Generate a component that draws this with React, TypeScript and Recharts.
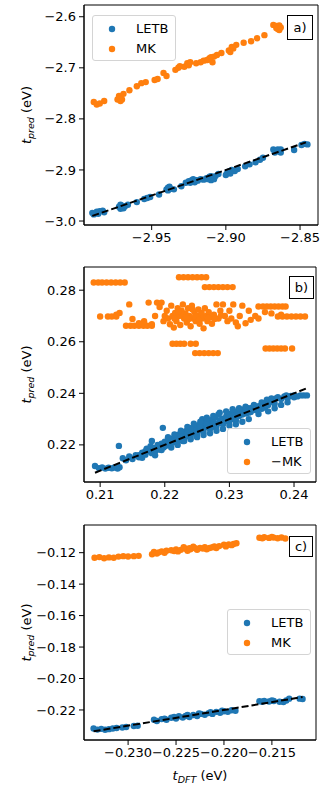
import React from 'react';
import { ScatterChart, Scatter, XAxis, YAxis, ReferenceArea } from 'recharts';

const BLUE = '#1f77b4';
const ORANGE = '#ff7f0e';
const FONT = "'DejaVu Sans', sans-serif";

// Panel a) data [t_DFT, t_pred]
const letbA: [number, number][] = [
  [-2.990, -2.984], [-2.989, -2.987], [-2.987, -2.982], [-2.986, -2.986], [-2.985, -2.981], [-2.983, -2.980], [-2.982, -2.983],
  [-2.972, -2.972], [-2.971, -2.976], [-2.970, -2.970], [-2.969, -2.975], [-2.968, -2.971], [-2.966, -2.968],
  [-2.971, -2.968], [-2.969, -2.972],
  [-2.960, -2.963], [-2.955, -2.957], [-2.953, -2.955], [-2.951, -2.953], [-2.945, -2.948],
  [-2.940, -2.938], [-2.939, -2.935], [-2.937, -2.937], [-2.935, -2.938], [-2.939, -2.940], [-2.938, -2.933],
  [-2.930, -2.932], [-2.927, -2.925], [-2.925, -2.922], [-2.923, -2.920], [-2.921, -2.924], [-2.919, -2.921], [-2.917, -2.918], [-2.915, -2.919],
  [-2.924, -2.925], [-2.922, -2.918], [-2.920, -2.920],
  [-2.913, -2.916], [-2.911, -2.913], [-2.910, -2.920], [-2.909, -2.915], [-2.907, -2.912], [-2.905, -2.908],
  [-2.912, -2.918], [-2.910, -2.912], [-2.908, -2.918],
  [-2.900, -2.910], [-2.898, -2.903], [-2.896, -2.900], [-2.894, -2.902], [-2.892, -2.898], [-2.899, -2.905], [-2.897, -2.907],
  [-2.887, -2.893], [-2.884, -2.889], [-2.880, -2.885], [-2.877, -2.880], [-2.875, -2.876],
  [-2.868, -2.860], [-2.866, -2.862], [-2.864, -2.864], [-2.863, -2.860], [-2.867, -2.866], [-2.865, -2.860], [-2.863, -2.866],
  [-2.854, -2.861], [-2.849, -2.851], [-2.847, -2.849], [-2.845, -2.850],
];
const mkA: [number, number][] = [
  [-2.989, -2.767], [-2.987, -2.772], [-2.985, -2.770], [-2.982, -2.765],
  [-2.973, -2.762], [-2.972, -2.755], [-2.971, -2.758], [-2.969, -2.751], [-2.970, -2.762], [-2.971, -2.765], [-2.972, -2.760],
  [-2.965, -2.744], [-2.960, -2.736], [-2.957, -2.730], [-2.954, -2.728], [-2.948, -2.724], [-2.946, -2.722],
  [-2.942, -2.710], [-2.940, -2.716], [-2.934, -2.704], [-2.932, -2.700], [-2.928, -2.698], [-2.926, -2.691],
  [-2.931, -2.697], [-2.925, -2.695],
  [-2.924, -2.689], [-2.920, -2.691], [-2.917, -2.689], [-2.913, -2.685], [-2.911, -2.681], [-2.909, -2.689],
  [-2.915, -2.686], [-2.912, -2.684], [-2.908, -2.678],
  [-2.910, -2.679], [-2.906, -2.675], [-2.903, -2.671], [-2.897, -2.669], [-2.896, -2.659], [-2.893, -2.655],
  [-2.898, -2.666], [-2.895, -2.662],
  [-2.888, -2.651], [-2.883, -2.648], [-2.879, -2.642], [-2.874, -2.636], [-2.868, -2.616], [-2.866, -2.622],
  [-2.864, -2.626], [-2.864, -2.617], [-2.866, -2.618], [-2.865, -2.624], [-2.863, -2.621],
];
const lineA: [number, number] = [-2.990, -2.846];

// Panel b) data
const letbB: [number, number][] = [
  [0.2092, 0.2118], [0.2098, 0.2110], [0.2103, 0.2112], [0.2108, 0.2108], [0.2113, 0.2111], [0.2118, 0.2109],
  [0.2122, 0.2112], [0.2127, 0.2108], [0.2130, 0.2113], [0.2129, 0.2196],
  [0.2135, 0.2148], [0.2140, 0.2140], [0.2145, 0.2155], [0.2150, 0.2145], [0.2155, 0.2160], [0.2160, 0.2152],
  [0.2165, 0.2170], [0.2170, 0.2162], [0.2172, 0.2185], [0.2175, 0.2175], [0.2178, 0.2195], [0.2180, 0.2168],
  [0.2183, 0.2188], [0.2186, 0.2178], [0.2189, 0.2200], [0.2192, 0.2182], [0.2195, 0.2205], [0.2197, 0.2266],
  [0.2198, 0.2190], [0.2200, 0.2212], [0.2203, 0.2198], [0.2206, 0.2220], [0.2209, 0.2205], [0.2212, 0.2225],
  [0.2215, 0.2210], [0.2218, 0.2232], [0.2220, 0.2215], [0.2222, 0.2240], [0.2224, 0.2222], [0.2226, 0.2245],
  [0.2228, 0.2228], [0.2230, 0.2250], [0.2232, 0.2232], [0.2234, 0.2255], [0.2236, 0.2238], [0.2238, 0.2262],
  [0.2240, 0.2242], [0.2242, 0.2258], [0.2244, 0.2245], [0.2246, 0.2268], [0.2248, 0.2250], [0.2250, 0.2272],
  [0.2252, 0.2255], [0.2254, 0.2278], [0.2256, 0.2260], [0.2258, 0.2300], [0.2260, 0.2265], [0.2262, 0.2285],
  [0.2264, 0.2268], [0.2266, 0.2290], [0.2268, 0.2272], [0.2270, 0.2295], [0.2272, 0.2275], [0.2274, 0.2298],
  [0.2276, 0.2270], [0.2278, 0.2305], [0.2280, 0.2280], [0.2283, 0.2318], [0.2286, 0.2285], [0.2289, 0.2302],
  [0.2292, 0.2290], [0.2295, 0.2310], [0.2298, 0.2295], [0.2300, 0.2320], [0.2303, 0.2300], [0.2306, 0.2325],
  [0.2309, 0.2305], [0.2312, 0.2330], [0.2315, 0.2312], [0.2318, 0.2335], [0.2320, 0.2318], [0.2323, 0.2338],
  [0.2326, 0.2322], [0.2330, 0.2342], [0.2333, 0.2328], [0.2336, 0.2345], [0.2340, 0.2335], [0.2345, 0.2350],
  [0.2350, 0.2340], [0.2355, 0.2358], [0.2358, 0.2375], [0.2362, 0.2365], [0.2366, 0.2372], [0.2370, 0.2360],
  [0.2375, 0.2385], [0.2380, 0.2378], [0.2385, 0.2388], [0.2390, 0.2380], [0.2395, 0.2390], [0.2400, 0.2392],
  [0.2405, 0.2388], [0.2410, 0.2392], [0.2415, 0.2392], [0.2420, 0.2392],
  [0.2205, 0.2200], [0.2215, 0.2225], [0.2225, 0.2232], [0.2235, 0.2245], [0.2245, 0.2255], [0.2255, 0.2268],
  [0.2265, 0.2278], [0.2275, 0.2285], [0.2285, 0.2295], [0.2295, 0.2300], [0.2305, 0.2312], [0.2315, 0.2322],
  [0.2325, 0.2330], [0.2335, 0.2338], [0.2345, 0.2342], [0.2360, 0.2355], [0.2372, 0.2380], [0.2388, 0.2392],
  [0.2400, 0.2385], [0.2240, 0.2232], [0.2250, 0.2240], [0.2260, 0.2250], [0.2270, 0.2262], [0.2280, 0.2270],
  [0.2290, 0.2280], [0.2300, 0.2290], [0.2310, 0.2295], [0.2218, 0.2220], [0.2228, 0.2215], [0.2200, 0.2195],
  [0.2190, 0.2192], [0.2160, 0.2160], [0.2165, 0.2150], [0.2170, 0.2175], [0.2240, 0.2265], [0.2300, 0.2305],
  [0.2330, 0.2325], [0.2355, 0.2345], [0.2365, 0.2380],
  [0.2180, 0.2215], [0.2185, 0.2160], [0.2195, 0.2180], [0.2205, 0.2230], [0.2210, 0.2190], [0.2215, 0.2240],
  [0.2220, 0.2200], [0.2225, 0.2255], [0.2230, 0.2215], [0.2235, 0.2270], [0.2240, 0.2222], [0.2245, 0.2282],
  [0.2250, 0.2230], [0.2255, 0.2290], [0.2260, 0.2238], [0.2265, 0.2305], [0.2270, 0.2245], [0.2275, 0.2312],
  [0.2280, 0.2255], [0.2285, 0.2325], [0.2290, 0.2262], [0.2295, 0.2330], [0.2300, 0.2275], [0.2305, 0.2338],
  [0.2310, 0.2280], [0.2315, 0.2342], [0.2320, 0.2290], [0.2325, 0.2348], [0.2330, 0.2300], [0.2338, 0.2355],
  [0.2345, 0.2320], [0.2350, 0.2365], [0.2360, 0.2330], [0.2370, 0.2342], [0.2380, 0.2355], [0.2390, 0.2365],
];
const mkB: [number, number][] = [
  [0.2090, 0.2830], [0.2097, 0.2830], [0.2103, 0.2830], [0.2110, 0.2830], [0.2117, 0.2830], [0.2124, 0.2830], [0.2131, 0.2830], [0.2138, 0.2830],
  [0.2100, 0.2698], [0.2112, 0.2698], [0.2118, 0.2698], [0.2125, 0.2698], [0.2130, 0.2712], [0.2125, 0.2705],
  [0.2140, 0.2662], [0.2147, 0.2662], [0.2153, 0.2662], [0.2160, 0.2662], [0.2167, 0.2662], [0.2173, 0.2662], [0.2180, 0.2662],
  [0.2145, 0.2745], [0.2150, 0.2688], [0.2160, 0.2672], [0.2168, 0.2680], [0.2175, 0.2752], [0.2180, 0.2668],
  [0.2185, 0.2700], [0.2188, 0.2752], [0.2192, 0.2735], [0.2195, 0.2752], [0.2198, 0.2680], [0.2200, 0.2700],
  [0.2203, 0.2720], [0.2205, 0.2690], [0.2208, 0.2668], [0.2210, 0.2740], [0.2212, 0.2700], [0.2214, 0.2655],
  [0.2216, 0.2712], [0.2218, 0.2680], [0.2220, 0.2730], [0.2222, 0.2700], [0.2224, 0.2665], [0.2226, 0.2720],
  [0.2228, 0.2745], [0.2230, 0.2690], [0.2232, 0.2710], [0.2234, 0.2675], [0.2236, 0.2730], [0.2238, 0.2700],
  [0.2240, 0.2660], [0.2242, 0.2740], [0.2244, 0.2690], [0.2246, 0.2715], [0.2248, 0.2680], [0.2250, 0.2700],
  [0.2252, 0.2725], [0.2254, 0.2670], [0.2256, 0.2705], [0.2258, 0.2690], [0.2260, 0.2652], [0.2262, 0.2730],
  [0.2264, 0.2700], [0.2266, 0.2680], [0.2268, 0.2715], [0.2270, 0.2695], [0.2273, 0.2670], [0.2276, 0.2705],
  [0.2280, 0.2745], [0.2283, 0.2690], [0.2286, 0.2720], [0.2290, 0.2745], [0.2293, 0.2700], [0.2297, 0.2680],
  [0.2300, 0.2720], [0.2303, 0.2690], [0.2306, 0.2745], [0.2310, 0.2675], [0.2313, 0.2660], [0.2316, 0.2700],
  [0.2320, 0.2740], [0.2325, 0.2672], [0.2330, 0.2720], [0.2333, 0.2685], [0.2340, 0.2700], [0.2345, 0.2690],
  [0.2215, 0.2690], [0.2227, 0.2705], [0.2237, 0.2688], [0.2247, 0.2698], [0.2257, 0.2712], [0.2267, 0.2692],
  [0.2277, 0.2688], [0.2287, 0.2702], [0.2221, 0.2718], [0.2233, 0.2695], [0.2243, 0.2725], [0.2253, 0.2685],
  [0.2345, 0.2737], [0.2352, 0.2737], [0.2358, 0.2737], [0.2364, 0.2737], [0.2370, 0.2737], [0.2376, 0.2737], [0.2382, 0.2737], [0.2387, 0.2737],
  [0.2355, 0.2715], [0.2365, 0.2710], [0.2380, 0.2705],
  [0.2375, 0.2698], [0.2382, 0.2698], [0.2389, 0.2698], [0.2396, 0.2698], [0.2403, 0.2698], [0.2410, 0.2698], [0.2417, 0.2698],
  [0.2222, 0.2850], [0.2229, 0.2850], [0.2236, 0.2850], [0.2243, 0.2850], [0.2250, 0.2850], [0.2257, 0.2850], [0.2264, 0.2850],
  [0.2262, 0.2812], [0.2269, 0.2812], [0.2276, 0.2812], [0.2283, 0.2812], [0.2290, 0.2812], [0.2297, 0.2812], [0.2305, 0.2812],
  [0.2212, 0.2592], [0.2218, 0.2592], [0.2224, 0.2592], [0.2230, 0.2592], [0.2240, 0.2592], [0.2248, 0.2592],
  [0.2247, 0.2556], [0.2254, 0.2556], [0.2261, 0.2556], [0.2268, 0.2556], [0.2275, 0.2556], [0.2282, 0.2556],
  [0.2356, 0.2574], [0.2362, 0.2574], [0.2368, 0.2574], [0.2374, 0.2574], [0.2380, 0.2574], [0.2386, 0.2574], [0.2397, 0.2574],
];
const lineB: [number, number] = [0.2092, 0.2420];

// Panel c) data
const letbC: [number, number][] = [
  [-0.2336, -0.2318], [-0.2332, -0.2325], [-0.2328, -0.2320], [-0.2324, -0.2326], [-0.2320, -0.2322], [-0.2316, -0.2318],
  [-0.2312, -0.2315], [-0.2306, -0.2312], [-0.2302, -0.2308], [-0.2294, -0.2302], [-0.2290, -0.2300],
  [-0.2273, -0.2262], [-0.2270, -0.2270], [-0.2265, -0.2258], [-0.2260, -0.2262], [-0.2255, -0.2250], [-0.2250, -0.2255],
  [-0.2247, -0.2240], [-0.2243, -0.2248], [-0.2240, -0.2238], [-0.2236, -0.2245], [-0.2232, -0.2232], [-0.2228, -0.2238],
  [-0.2224, -0.2225], [-0.2220, -0.2230], [-0.2216, -0.2220], [-0.2212, -0.2225], [-0.2208, -0.2212], [-0.2204, -0.2218],
  [-0.2200, -0.2208], [-0.2196, -0.2212], [-0.2192, -0.2202], [-0.2188, -0.2205],
  [-0.2262, -0.2255], [-0.2252, -0.2245], [-0.2238, -0.2232], [-0.2226, -0.2222], [-0.2214, -0.2215], [-0.2202, -0.2205],
  [-0.2163, -0.2145], [-0.2158, -0.2142], [-0.2153, -0.2146], [-0.2148, -0.2143], [-0.2142, -0.2148], [-0.2138, -0.2150],
  [-0.2160, -0.2148], [-0.2150, -0.2140],
  [-0.2135, -0.2140], [-0.2132, -0.2128], [-0.2121, -0.2128], [-0.2118, -0.2130],
];
const mkC: [number, number][] = [
  [-0.2335, -0.1232], [-0.2330, -0.1228], [-0.2325, -0.1235], [-0.2320, -0.1230], [-0.2315, -0.1232], [-0.2310, -0.1225],
  [-0.2305, -0.1222], [-0.2300, -0.1224], [-0.2294, -0.1222], [-0.2289, -0.1220],
  [-0.2275, -0.1210], [-0.2273, -0.1195], [-0.2270, -0.1205], [-0.2265, -0.1192], [-0.2260, -0.1188], [-0.2255, -0.1185],
  [-0.2250, -0.1180], [-0.2245, -0.1182], [-0.2240, -0.1175], [-0.2235, -0.1178], [-0.2230, -0.1172], [-0.2225, -0.1170],
  [-0.2220, -0.1165], [-0.2215, -0.1170], [-0.2210, -0.1160], [-0.2205, -0.1158], [-0.2200, -0.1150], [-0.2195, -0.1148],
  [-0.2190, -0.1145], [-0.2187, -0.1140], [-0.2262, -0.1200], [-0.2248, -0.1192], [-0.2238, -0.1188], [-0.2228, -0.1182],
  [-0.2218, -0.1178], [-0.2208, -0.1170], [-0.2198, -0.1160], [-0.2242, -0.1165], [-0.2232, -0.1162],
  [-0.2268, -0.1198], [-0.2252, -0.1190], [-0.2236, -0.1172], [-0.2222, -0.1174], [-0.2212, -0.1165], [-0.2192, -0.1152],
  [-0.2163, -0.1105], [-0.2158, -0.1102], [-0.2153, -0.1106], [-0.2148, -0.1104], [-0.2144, -0.1108], [-0.2140, -0.1103], [-0.2136, -0.1110],
  [-0.2160, -0.1108], [-0.2150, -0.1100],
];
const lineC: [number, number] = [-0.2336, -0.2118];

// Axes
const xTicksA = [-2.95, -2.9, -2.85];
const yTicksA = [-3.0, -2.9, -2.8, -2.7, -2.6];
const xTicksB = [0.21, 0.22, 0.23, 0.24];
const yTicksB = [0.22, 0.24, 0.26, 0.28];
const xTicksC = [-0.23, -0.225, -0.22, -0.215];
const yTicksC = [-0.22, -0.2, -0.18, -0.16, -0.14, -0.12];

const toPts = (arr: [number, number][]) => arr.map(([x, y]) => ({ x, y }));
const fmt = (d: number) => (v: number) => v.toFixed(d).replace('-', '\u2212');

const dot = (color: string) => (p: any) => <circle cx={p.cx} cy={p.cy} r={3.2} fill={color} />;
const noDot = () => <g />;

const YLabel = (props: any) => {
  const vb = props.viewBox || { x: 0, y: 0, width: 84, height: 200 };
  const cx = vb.x + 31;
  const cy = vb.y + vb.height / 2;
  return (
    <text transform={`translate(${cx},${cy}) rotate(-90)`} textAnchor="middle" fontFamily={FONT} fontSize={13} fill="#000">
      <tspan fontStyle="italic">t</tspan>
      <tspan fontStyle="italic" fontSize={9.5} dy={3}>pred</tspan>
      <tspan dy={-3}> (eV)</tspan>
    </text>
  );
};

const XLabel = (props: any) => {
  const vb = props.viewBox || { x: 84, y: 0, width: 232, height: 50 };
  const cx = vb.x + vb.width / 2;
  const cy = vb.y + 40;
  return (
    <text x={cx} y={cy} textAnchor="middle" fontFamily={FONT} fontSize={13} fill="#000">
      <tspan fontStyle="italic">t</tspan>
      <tspan fontStyle="italic" fontSize={9.5} dy={3}>DFT</tspan>
      <tspan dy={-3}> (eV)</tspan>
    </text>
  );
};

type PanelProps = {
  top: number;
  height: number;
  margin: { top: number; right: number; bottom: number; left: number };
  xAxisHeight: number;
  xDomain: [number, number];
  yDomain: [number, number];
  xTicks: number[];
  yTicks: number[];
  xDec: number;
  yDec: number;
  letb: [number, number][];
  mk: [number, number][];
  line: [number, number];
  mkName: string;
  legendPos: { left: number; top: number };
  tag: string;
  tagPos: { left: number; top: number; width: number; height: number };
  xLabel?: boolean;
};

const LegendBox = ({ mkName, pos }: { mkName: string; pos: { left: number; top: number } }) => (
  <div
    style={{
      position: 'absolute', left: pos.left, top: pos.top, width: 84, height: 46, boxSizing: 'border-box',
      border: '1px solid #d4d4d4', borderRadius: 3, background: 'rgba(255,255,255,0.85)',
      fontFamily: FONT, fontSize: 13, color: '#000',
    }}
  >
    {[{ n: 'LETB', c: BLUE }, { n: mkName, c: ORANGE }].map((it, i) => (
      <div key={it.n} style={{ position: 'absolute', left: 0, top: 4 + i * 20, height: 18, width: 84 }}>
        <svg width={24} height={18} style={{ position: 'absolute', left: 7, top: 0 }}>
          <circle cx={12} cy={9} r={3.2} fill={it.c} />
        </svg>
        <span style={{ position: 'absolute', left: 43, top: 1, lineHeight: '16px' }}>{it.n}</span>
      </div>
    ))}
  </div>
);

const Panel = (p: PanelProps) => {
  const diag = [{ x: p.line[0], y: p.line[0] }, { x: p.line[1], y: p.line[1] }];
  return (
    <div style={{ position: 'absolute', left: 0, top: p.top, width: 332, height: p.height }}>
      <ScatterChart width={332} height={p.height} margin={p.margin}>
        <XAxis
          type="number" dataKey="x" domain={p.xDomain} allowDataOverflow ticks={p.xTicks}
          tickFormatter={fmt(p.xDec)} height={p.xAxisHeight} tickSize={5} tickMargin={3}
          stroke="#000" tick={{ fill: '#000', fontSize: 13, fontFamily: FONT }} axisLine={{ stroke: '#000' }}
          tickLine={{ stroke: '#000' }} interval={0}
          label={p.xLabel ? <XLabel /> : undefined}
        />
        <YAxis
          type="number" dataKey="y" domain={p.yDomain} allowDataOverflow ticks={p.yTicks}
          tickFormatter={fmt(p.yDec)} width={84} tickSize={5} tickMargin={3}
          stroke="#000" tick={{ fill: '#000', fontSize: 13, fontFamily: FONT }} axisLine={{ stroke: '#000' }}
          tickLine={{ stroke: '#000' }} interval={0}
          label={<YLabel />}
        />
        <ReferenceArea x1={p.xDomain[0]} x2={p.xDomain[1]} y1={p.yDomain[0]} y2={p.yDomain[1]} fill="none" stroke="#000" strokeWidth={1} fillOpacity={0} />
        <Scatter name="LETB" data={toPts(p.letb)} fill={BLUE} shape={dot(BLUE)} isAnimationActive={false} />
        <Scatter name={p.mkName} data={toPts(p.mk)} fill={ORANGE} shape={dot(ORANGE)} isAnimationActive={false} />
        <Scatter
          name="y=x" data={diag} shape={noDot} legendType="none" isAnimationActive={false}
          line={{ stroke: '#000', strokeWidth: 2, strokeDasharray: '7 3' }}
        />
      </ScatterChart>
      <LegendBox mkName={p.mkName} pos={p.legendPos} />
      <div
        style={{
          position: 'absolute', left: p.tagPos.left, top: p.tagPos.top, width: p.tagPos.width, height: p.tagPos.height,
          boxSizing: 'border-box', border: '1.3px solid #000', background: '#fff', fontFamily: FONT, fontSize: 13,
          display: 'flex', alignItems: 'center', justifyContent: 'center', color: '#000',
        }}
      >
        {p.tag}
      </div>
    </div>
  );
};

export default function App() {
  return (
    <div style={{ position: 'absolute', left: 0, top: 0, width: 332, height: 794, background: '#fff' }}>
      <Panel
        top={0} height={260} margin={{ top: 5, right: 14, bottom: 5, left: 0 }} xAxisHeight={30}
        xDomain={[-2.9956, -2.8379]} yDomain={[-3.0078, -2.577]}
        xTicks={xTicksA} yTicks={yTicksA} xDec={2} yDec={1}
        letb={letbA} mk={mkA} line={lineA} mkName="MK"
        legendPos={{ left: 92, top: 15 }} tag="a)" tagPos={{ left: 287, top: 15, width: 26, height: 25 }}
      />
      <Panel
        top={260} height={260} margin={{ top: 7, right: 16, bottom: 8, left: 0 }} xAxisHeight={30}
        xDomain={[0.2075, 0.2434]} yDomain={[0.2056, 0.289]}
        xTicks={xTicksB} yTicks={yTicksB} xDec={2} yDec={2}
        letb={letbB} mk={mkB} line={lineB} mkName={'\u2212MK'}
        legendPos={{ left: 227, top: 168 }} tag="b)" tagPos={{ left: 289, top: 16, width: 25, height: 23 }}
      />
      <Panel
        top={520} height={274} margin={{ top: 5, right: 16, bottom: 4, left: 0 }} xAxisHeight={50}
        xDomain={[-0.2346, -0.2104]} yDomain={[-0.2391, -0.1024]}
        xTicks={xTicksC} yTicks={yTicksC} xDec={3} yDec={2}
        letb={letbC} mk={mkC} line={lineC} mkName="MK"
        legendPos={{ left: 227, top: 89 }} tag="c)" tagPos={{ left: 289, top: 16, width: 24, height: 21 }}
        xLabel
      />
    </div>
  );
}
